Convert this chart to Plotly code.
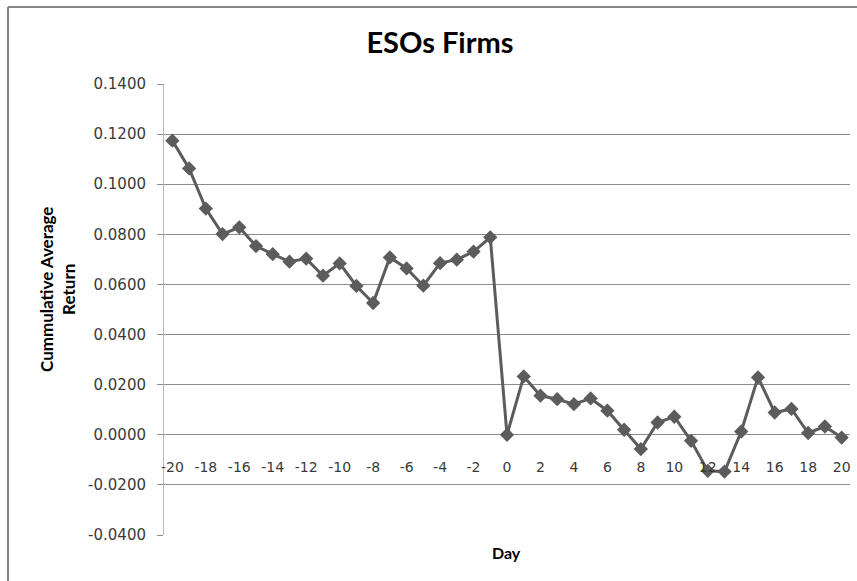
import plotly.graph_objects as go

days = list(range(-20, 21))
car = [0.1174, 0.1063, 0.0903, 0.0801, 0.0828, 0.0753, 0.0721, 0.0691, 0.0703, 0.0635,
       0.0684, 0.0594, 0.0526, 0.0708, 0.0664, 0.0595, 0.0685, 0.0699, 0.0731, 0.0788,
       0.0000, 0.0233, 0.0156, 0.0142, 0.0122, 0.0145, 0.0096, 0.0020, -0.0057, 0.0049,
       0.0072, -0.0024, -0.0144, -0.0147, 0.0013, 0.0229, 0.0089, 0.0103, 0.0007, 0.0033,
       -0.0011]

x_tick_vals = list(range(-20, 21, 2))
x_tick_text = [str(v) for v in x_tick_vals]
y_tick_vals = [-0.04, -0.02, 0.0, 0.02, 0.04, 0.06, 0.08, 0.10, 0.12, 0.14]
y_tick_text = ["%.4f" % v for v in y_tick_vals]

title_text = "ESOs Firms"
y_title = "Cummulative Average<br>Return"
x_title = "Day"

line_color = "#5c5c5c"
grid_color = "#8c8c8c"

fig = go.Figure()
fig.add_trace(go.Scatter(
    x=days, y=car, mode="lines+markers",
    line=dict(color=line_color, width=3),
    marker=dict(symbol="diamond", size=11, color=line_color),
    showlegend=False, hoverinfo="skip",
))

W, H = 857, 581
L, R, T, B = 164, 7, 84, 46
pw = W - L - R
ph = H - T - B
ymin, ymax = -0.04, 0.14
zero_frac = (0 - ymin) / (ymax - ymin)

fig.update_layout(
    width=W, height=H,
    margin=dict(l=L, r=R, t=T, b=B),
    paper_bgcolor="white", plot_bgcolor="white",
    title=dict(text="<b>" + title_text + "</b>", x=440 / W, xanchor="center",
               y=1 - 43 / H, yanchor="middle",
               font=dict(family="Lato", size=29, color="#000000")),
    xaxis=dict(
        range=[-20.5, 20.5], tickvals=x_tick_vals, ticktext=x_tick_text,
        showgrid=False, zeroline=False, showline=False, ticks="",
        anchor="free", position=zero_frac, ticklabelstandoff=22,
        tickfont=dict(family="DejaVu Sans", size=14, color="#3a3a3a"),
    ),
    yaxis=dict(
        range=[ymin, ymax], tickvals=y_tick_vals, ticktext=y_tick_text,
        showgrid=True, gridcolor=grid_color, gridwidth=1, zeroline=False,
        showline=True, linecolor="#b8b8b8", linewidth=1,
        ticks="outside", ticklen=6, tickcolor=grid_color, ticklabelstandoff=8,
        tickfont=dict(family="DejaVu Sans", size=15, color="#3a3a3a"),
    ),
)

# axis titles
fig.add_annotation(text="<b>" + y_title + "</b>", xref="paper", yref="paper",
                   x=(57 - L) / pw, y=(H - B - 290) / ph, xanchor="center", yanchor="middle",
                   showarrow=False, textangle=-90,
                   font=dict(family="Lato", size=17, color="#000000"), align="center")
fig.add_annotation(text="<b>" + x_title + "</b>", xref="paper", yref="paper",
                   x=(506 - L) / pw, y=(H - B - 552) / ph, xanchor="center", yanchor="middle",
                   showarrow=False,
                   font=dict(family="Lato", size=16, color="#000000"))

# outer chart border (only left and top edges are visible in the frame)
fig.add_shape(type="line", xref="paper", yref="paper",
              x0=(8 - L) / pw, x1=(8 - L) / pw,
              y0=(H - B - 700) / ph, y1=(H - B - 7) / ph,
              line=dict(color="#858585", width=2))
fig.add_shape(type="line", xref="paper", yref="paper",
              x0=(8 - L) / pw, x1=(1000 - L) / pw,
              y0=(H - B - 7) / ph, y1=(H - B - 7) / ph,
              line=dict(color="#858585", width=2))

fig.write_html("out.html")
